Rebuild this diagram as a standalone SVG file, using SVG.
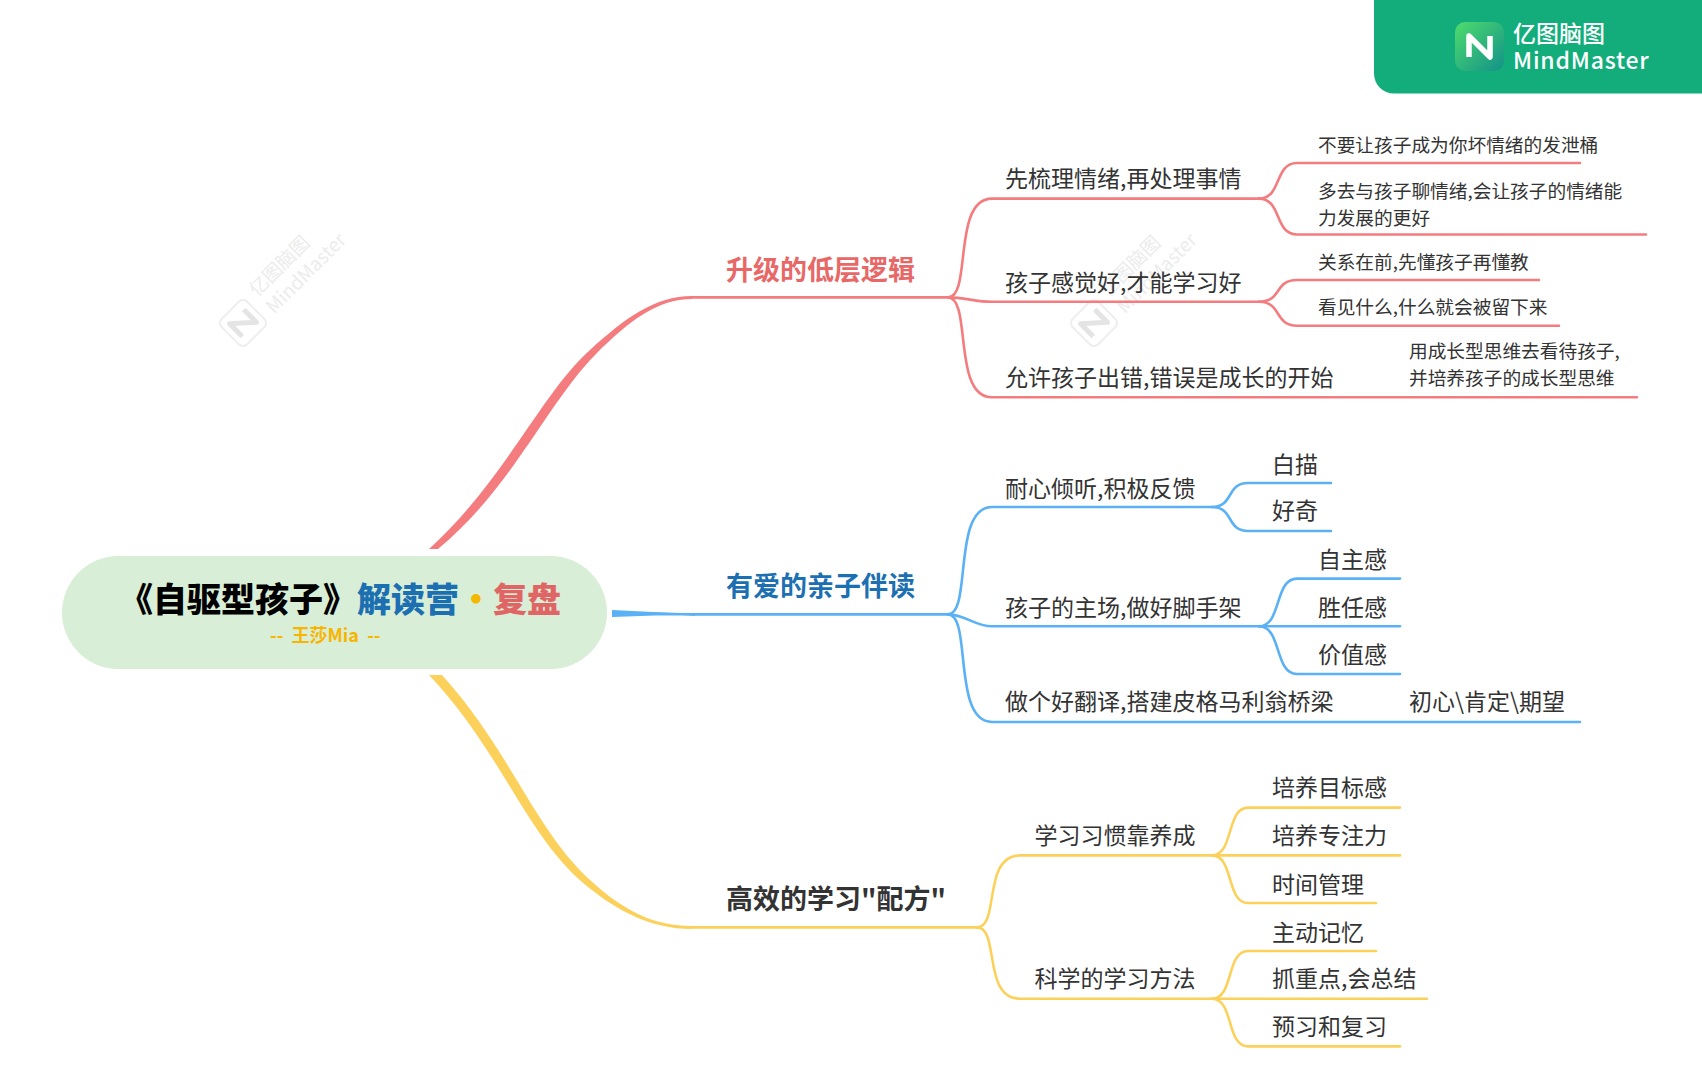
<svg xmlns="http://www.w3.org/2000/svg" width="1702" height="1080" viewBox="0 0 1702 1080">
<style>
text{font-family:"Noto Sans CJK SC","Noto Sans",sans-serif;fill:#333}
.b{font-size:27px;font-weight:700}
.s{font-size:23px}
.l{font-size:18.7px}
.c{fill:none;stroke-width:2.6;stroke-linecap:round}
.r{stroke:#f47c7f}.u{stroke:#5bb1f5}.y{stroke:#fcd15b}
.wm{fill:#ececec;font-size:19px}
</style>
<defs>
<linearGradient id="g" x1="0" y1="0" x2="1" y2="1"><stop offset="0" stop-color="#4fdc6c"/><stop offset="1" stop-color="#12918a"/></linearGradient>
<g id="mark"><rect x="-18" y="-18" width="36" height="36" rx="6" fill="#fff" stroke="#eeeeee" stroke-width="2"/><path d="M-10 9V-9L10 9V-9" fill="none" stroke="#e4e4e4" stroke-width="5" stroke-linejoin="round"/></g>
</defs>
<rect width="1702" height="1080" fill="#fff"/>
<g id="watermark1" transform="translate(243 323) rotate(-45)"><use href="#mark"/><text class="wm" x="28" y="-8">亿图脑图</text><text class="wm" x="28" y="16">MindMaster</text></g>
<g id="watermark2" transform="translate(1094 323) rotate(-45)"><use href="#mark"/><text class="wm" x="28" y="-8">亿图脑图</text><text class="wm" x="28" y="16">MindMaster</text></g>
<g id="connectors">
<path d="M429 549C505 480 540 395 590 350C625 318 655 296 692 296L692 299C657 299 628 322 596 354C548 402 512 488 438 549Z" fill="#f47c7f"/>
<path d="M612 610C640 611 665 613 695 613V616C665 615 640 616 612 617Z" fill="#5bb1f5"/>
<path d="M429 675H442C510 750 535 830 590 880C625 912 655 926 692 926L692 929C650 929 615 910 582 882C525 832 500 750 429 675Z" fill="#fcd15b"/>
<g class="r">
<path class="c r" d="M690 297.4H948"/>
<path class="c r" d="M948 297.4C972 297.4 952 198.6 992 198.6H1259"/>
<path class="c r" d="M948 297.4C965 297.4 975 301.8 992 301.8H1259"/>
<path class="c r" d="M948 297.4C972 297.4 952 397.3 992 397.3H1637"/>
<path class="c r" d="M1259 198.6C1282 198.6 1274 163 1297 163H1580"/>
<path class="c r" d="M1259 198.6C1282 198.6 1274 234.5 1297 234.5H1646"/>
<path class="c r" d="M1259 301.8C1282 301.8 1274 280 1297 280H1539"/>
<path class="c r" d="M1259 301.8C1282 301.8 1274 325.7 1297 325.7H1559"/>
</g>
<g>
<path class="c u" d="M695 614.4H948"/>
<path class="c u" d="M948 614.4C972 614.4 952 507 992 507H1212"/>
<path class="c u" d="M948 614.4C965 614.4 975 626.3 992 626.3H1259"/>
<path class="c u" d="M948 614.4C972 614.4 952 722 992 722H1580"/>
<path class="c u" d="M1212 507C1234 507 1226 483 1248 483H1331"/>
<path class="c u" d="M1212 507C1234 507 1226 531 1248 531H1331"/>
<path class="c u" d="M1259 626.3C1282 626.3 1274 578.6 1297 578.6H1400"/>
<path class="c u" d="M1259 626.3H1400"/>
<path class="c u" d="M1259 626.3C1282 626.3 1274 674 1297 674H1400"/>
</g>
<g>
<path class="c y" d="M692 927.4H977"/>
<path class="c y" d="M977 927.4C1000 927.4 982 855.4 1020 855.4H1212"/>
<path class="c y" d="M977 927.4C1000 927.4 982 998.7 1020 998.7H1212"/>
<path class="c y" d="M1212 855.4C1234 855.4 1226 807.6 1248 807.6H1400"/>
<path class="c y" d="M1212 855.4H1400"/>
<path class="c y" d="M1212 855.4C1234 855.4 1226 903 1248 903H1376"/>
<path class="c y" d="M1212 998.7C1234 998.7 1226 951 1248 951H1376"/>
<path class="c y" d="M1212 998.7H1427"/>
<path class="c y" d="M1212 998.7C1234 998.7 1226 1046.4 1248 1046.4H1400"/>
</g>
</g>
<g id="root">
<rect x="62" y="556" width="545" height="113" rx="56.5" fill="#d8eed6"/>
<text x="119" y="612" font-size="34" font-weight="900"><tspan fill="#000">《自驱型孩子》</tspan><tspan fill="#1c70b2">解读营</tspan><tspan fill="#f5b800">·</tspan><tspan fill="#e06666">复盘</tspan></text>
<text x="270" y="642" font-size="18" font-weight="700" fill="#f7b500" style="fill:#f7b500;white-space:pre">--  王莎Mia  --</text>
</g>
<g id="n1"><text class="b" x="726" y="280" style="fill:#e86868">升级的低层逻辑</text></g>
<g id="n1-1"><text class="s" x="1005" y="187">先梳理情绪,再处理事情</text></g>
<g id="n1-1-1"><text class="l" x="1318" y="152">不要让孩子成为你坏情绪的发泄桶</text></g>
<g id="n1-1-2"><text class="l" x="1318" y="197.5">多去与孩子聊情绪,会让孩子的情绪能</text><text class="l" x="1318" y="224.7">力发展的更好</text></g>
<g id="n1-2"><text class="s" x="1005" y="291">孩子感觉好,才能学习好</text></g>
<g id="n1-2-1"><text class="l" x="1318" y="269">关系在前,先懂孩子再懂教</text></g>
<g id="n1-2-2"><text class="l" x="1318" y="313.5">看见什么,什么就会被留下来</text></g>
<g id="n1-3"><text class="s" x="1005" y="386">允许孩子出错,错误是成长的开始</text></g>
<g id="n1-3-1"><text class="l" x="1409" y="358">用成长型思维去看待孩子,</text><text class="l" x="1409" y="385">并培养孩子的成长型思维</text></g>
<g id="n2"><text class="b" x="726" y="596" style="fill:#1c70b2">有爱的亲子伴读</text></g>
<g id="n2-1"><text class="s" x="1005" y="496.5">耐心倾听,积极反馈</text></g>
<g id="n2-1-1"><text class="s" x="1272" y="472.6">白描</text></g>
<g id="n2-1-2"><text class="s" x="1272" y="519">好奇</text></g>
<g id="n2-2"><text class="s" x="1005" y="616">孩子的主场,做好脚手架</text></g>
<g id="n2-2-1"><text class="s" x="1318" y="568">自主感</text></g>
<g id="n2-2-2"><text class="s" x="1318" y="616">胜任感</text></g>
<g id="n2-2-3"><text class="s" x="1318" y="662.6">价值感</text></g>
<g id="n2-3"><text class="s" x="1005" y="710">做个好翻译,搭建皮格马利翁桥梁</text></g>
<g id="n2-3-1"><text class="s" x="1409" y="710">初心\肯定\期望</text></g>
<g id="n3"><text class="b" x="726" y="909">高效的学习"配方"</text></g>
<g id="n3-1"><text class="s" x="1034.5" y="844">学习习惯靠养成</text></g>
<g id="n3-1-1"><text class="s" x="1272" y="796">培养目标感</text></g>
<g id="n3-1-2"><text class="s" x="1272" y="844">培养专注力</text></g>
<g id="n3-1-3"><text class="s" x="1272" y="892.7">时间管理</text></g>
<g id="n3-2"><text class="s" x="1034.5" y="987">科学的学习方法</text></g>
<g id="n3-2-1"><text class="s" x="1272" y="940.5">主动记忆</text></g>
<g id="n3-2-2"><text class="s" x="1272" y="987">抓重点,会总结</text></g>
<g id="n3-2-3"><text class="s" x="1272" y="1035">预习和复习</text></g>
<g id="brand">
<path d="M1374 0H1702V93.5H1394A20 20 0 0 1 1374 73.5Z" fill="#12ad7b"/>
<rect x="1455" y="22" width="49" height="49" rx="10" fill="url(#g)"/>
<path d="M1469 57V36L1490 57V36" fill="none" stroke="#fff" stroke-width="5.5" stroke-linejoin="round"/>
<text x="1513" y="42" font-size="23" font-weight="500" style="fill:#fff">亿图脑图</text>
<text x="1513" y="69" font-size="23" font-weight="500" letter-spacing="0.8" style="fill:#fff">MindMaster</text>
</g>
</svg>
